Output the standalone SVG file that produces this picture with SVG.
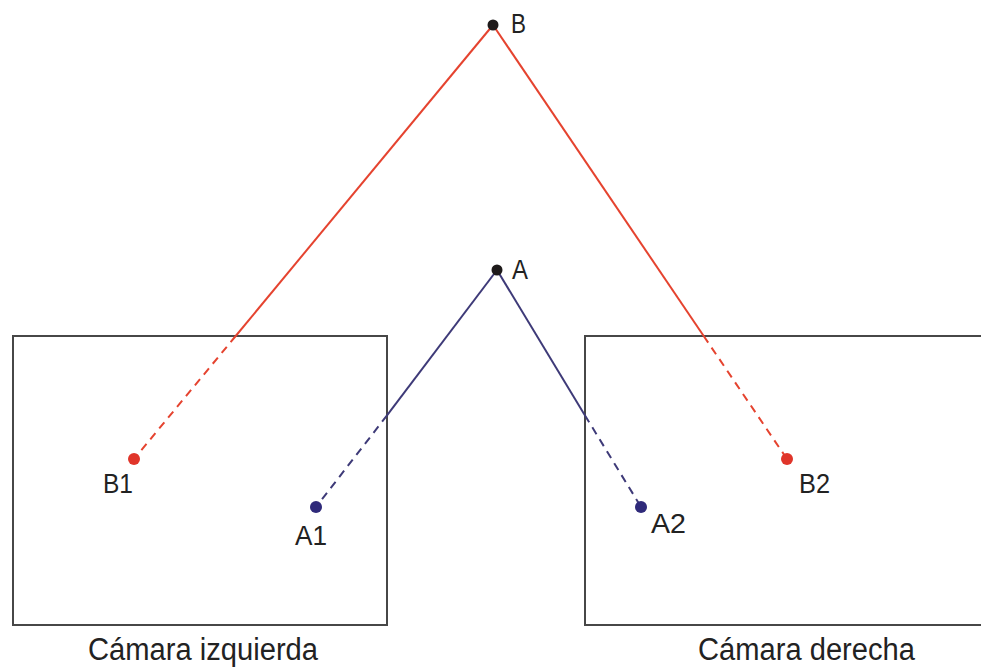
<svg xmlns="http://www.w3.org/2000/svg" width="981" height="667" viewBox="0 0 981 667">
<style>
.bg{fill:#ffffff}
.box{fill:none;stroke:#474747;stroke-width:2}
.red{stroke:#e5432f;stroke-width:2;fill:none}
.blue{stroke:#3e3a78;stroke-width:2;fill:none}
.dash{stroke-dasharray:8 6}
.lbl{font-family:"Liberation Sans",Arial,sans-serif;font-size:27px;fill:#222}
.cap{font-family:"Liberation Sans",Arial,sans-serif;font-size:31px;fill:#222}
</style>
<rect class="bg" x="0" y="0" width="981" height="667"/>
<g id="camara-izquierda">
<rect class="box" x="13" y="336" width="374" height="289"/>
<text class="cap" x="88" y="660" textLength="230" lengthAdjust="spacingAndGlyphs">Cámara izquierda</text>
</g>
<g id="camara-derecha">
<rect class="box" x="585" y="336" width="410" height="289"/>
<text class="cap" x="698" y="660" textLength="217" lengthAdjust="spacingAndGlyphs">Cámara derecha</text>
</g>
<g id="connectors">
<line class="red" x1="493" y1="25" x2="235.7" y2="336"/>
<line class="red dash" x1="235.7" y1="336" x2="134" y2="459"/>
<line class="red" x1="493" y1="25" x2="703.7" y2="336"/>
<line class="red dash" x1="703.7" y1="336" x2="787" y2="459"/>
<line class="blue" x1="497" y1="270" x2="387" y2="415.4"/>
<line class="blue dash" x1="387" y1="415.4" x2="316" y2="507"/>
<line class="blue" x1="497" y1="270" x2="585" y2="415.4"/>
<line class="blue dash" x1="585" y1="415.4" x2="641" y2="507"/>
</g>
<g id="B">
<circle cx="493" cy="25" r="5.5" fill="#1e1a1a"/>
<text class="lbl" x="511" y="33" textLength="15" lengthAdjust="spacingAndGlyphs">B</text>
</g>
<g id="A">
<circle cx="497" cy="270" r="5.5" fill="#1e1a1a"/>
<text class="lbl" x="512" y="279" textLength="16" lengthAdjust="spacingAndGlyphs">A</text>
</g>
<g id="B1">
<circle cx="134" cy="459" r="6" fill="#e0352a"/>
<text class="lbl" x="103" y="493" textLength="30" lengthAdjust="spacingAndGlyphs">B1</text>
</g>
<g id="A1">
<circle cx="316" cy="507" r="6" fill="#2f2a7a"/>
<text class="lbl" x="295" y="545" textLength="32" lengthAdjust="spacingAndGlyphs">A1</text>
</g>
<g id="A2">
<circle cx="641" cy="507" r="6" fill="#2f2a7a"/>
<text class="lbl" x="651" y="533" textLength="35" lengthAdjust="spacingAndGlyphs">A2</text>
</g>
<g id="B2">
<circle cx="787" cy="459" r="6" fill="#e0352a"/>
<text class="lbl" x="799" y="493" textLength="31" lengthAdjust="spacingAndGlyphs">B2</text>
</g>
</svg>
